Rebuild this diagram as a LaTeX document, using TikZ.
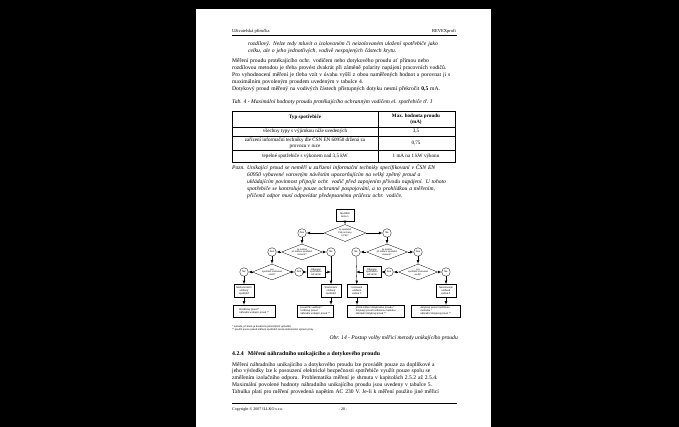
\documentclass[tikz,border=0pt]{standalone}
\usepackage{fontspec}
\setmainfont{Liberation Serif}
\setsansfont{Liberation Sans}
\usepackage{tikz}
\usetikzlibrary{arrows,shapes.geometric,calc}

\begin{document}
\begin{tikzpicture}[x=1pt,y=-1pt,
  txt/.style={anchor=base west,inner sep=0pt,font=\fontsize{5.6}{6.9}\selectfont},
  ital/.style={txt,font=\fontsize{5.6}{6.9}\selectfont\itshape},
  para/.style={txt,text width=226pt,align=left},
  cell/.style={inner sep=0pt,align=center,font=\fontsize{5.1}{5.9}\selectfont},
  box/.style={draw,line width=0.3pt,align=center,inner sep=0.7pt,font=\sffamily\fontsize{2.5}{2.9}\selectfont},
  res/.style={box,align=left,anchor=west},
  ask/.style={draw,line width=0.3pt,diamond,aspect=2.6,inner sep=0pt,align=center,font=\sffamily\fontsize{2.3}{2.7}\selectfont},
  yn/.style={draw,line width=0.3pt,circle,minimum size=8.5pt,inner sep=0pt,font=\sffamily\fontsize{2.5}{2.9}\selectfont},
  arr/.style={line width=0.3pt,-latex}]

\useasboundingbox (0,0) rectangle (679,427);
\fill[black] (0,0) rectangle (679,427);
\fill[white] (196,9) rectangle (491,427);

% header
\node[txt,font=\fontsize{4.5}{5}\selectfont] (hl) at (232,33) {Uživatelská příručka};
\node[txt,anchor=base east,font=\fontsize{4.5}{5}\selectfont] (hr) at (456,33) {REVEXprofi};
\draw[line width=0.4pt] (232,35.5) -- (457,35.5);

% text above table
\node[ital,text width=212pt,align=left] (it) at (248,46) {rozdílový. Nelze tedy mluvit o izolovaném či neizolovaném uložení spotřebiče jako\\ celku, ale o jeho jednotlivých, vodivě nespojených částech krytu.};
\node[para] (p1) at (232,63) {Měření proudu protékajícího ochr. vodičem nebo dotykového proudu ať přímou nebo\\ rozdílovou metodou je třeba provést dvakrát při záměně polarity napájení pracovních vodičů.\\ Pro vyhodnocení měření je třeba vzít v úvahu vyšší z obou naměřených hodnot a porovnat ji s\\ maximálním povoleným proudem uvedeným v tabulce 4.\\ Dotykový proud měřený na vodivých částech přístupných dotyku nesmí překročit \textbf{0,5} mA.};
\node[ital] (tab) at (232,104) {Tab. 4 - Maximální hodnoty proudu protékajícího ochranným vodičem el. spotřebiče tř. I};

% table
\draw[line width=0.4pt] (232,111) rectangle (455,162);
\draw[line width=0.4pt] (378,111) -- (378,162);
\foreach \y in {127,136,150} \draw[line width=0.4pt] (232,\y) -- (455,\y);
\node[cell,font=\fontsize{5.1}{5.9}\selectfont\bfseries] (c11) at (305,117) {Typ spotřebiče};
\node[cell,font=\fontsize{5.1}{5.9}\selectfont\bfseries] (c12) at (416,119.5) {Max. hodnota proudu\\(mA)};
\node[cell] (c21) at (305,131.5) {všechny typy s výjimkou níže uvedených};
\node[cell] (c22) at (416,131.5) {3,5};
\node[cell] (c31) at (305,143) {zařízení informační techniky dle ČSN EN 60950 držená za\\provozu v ruce};
\node[cell] (c32) at (416,143) {0,75};
\node[cell] (c41) at (305,156) {tepelné spotřebiče s výkonem nad 3,5 kW};
\node[cell] (c42) at (416,156) {1 mA na 1 kW výkonu};

% note
\node[ital] (pz) at (232,170) {Pozn.};
\node[ital,text width=212pt,align=left] (pzt) at (247,170) {Unikající proud se neměří u zařízení informační techniky specifikovaní v ČSN EN\\ 60950 vybavené varovným návěstím upozorňujícím na velký zpětný proud a\\ ukládajícím povinnost připojit ochr. vodič před zapojením přívodu napájení. U tohoto\\ spotřebiče se kontroluje pouze ochranné pospojování, a to prohlídkou a měřením,\\ přičemž odpor musí odpovídat předepsanému průřezu ochr. vodiče.};

% flowchart
\node[box,minimum width=18pt,minimum height=12pt] (start) at (345,215) {Spuštění\\testu 1};
\node[ask,minimum width=42pt,minimum height=17pt] (d1) at (345,233) {Je spotřebič\\třídy ochrany\\I (PE)?};
\node[yn] (d1y) at (302,233) {Ano};
\node[yn] (d1n) at (387,233) {Ne};

\node[ask,minimum width=41pt,minimum height=16pt] (d2l) at (302,252) {Je možné\\při měření spotřebič\\izolovat?};
\node[yn] (d2ly) at (272,252) {Ano};
\node[yn] (d2ln) at (331,252) {Ne};
\node[ask,minimum width=41pt,minimum height=16pt] (d2r) at (387,252) {Je možné\\při měření spotřebič\\izolovat?};
\node[yn] (d2rn) at (356,252) {Ne};
\node[yn] (d2ry) at (418,252) {Ano};

\node[ask,minimum width=39pt,minimum height=16pt] (d3l) at (272,272) {Lze\\spotřebič izolovaně\\uložit?};
\node[yn] (d3ln) at (244,272) {Ne};
\node[yn] (d3ly) at (299,272) {Ano};
\node[box,minimum width=18pt,minimum height=11pt] (odl) at (316,272) {Odpojení\\spotřebiče\\od země};
\coordinate (jl) at (331,272);
\node[ask,minimum width=39pt,minimum height=16pt] (d3r) at (418,272) {Lze\\spotřebič izolovaně\\uložit?};
\node[yn] (d3ry) at (389,272) {Ano};
\node[yn] (d3rn) at (446,272) {Ne};
\node[box,minimum width=18pt,minimum height=11pt] (odr) at (372,272) {Odpojení\\spotřebiče\\od země};
\coordinate (jr) at (356,272);

\node[box,minimum width=20pt,minimum height=13pt] (b1) at (244,291) {Nestacionární\\uložený\\spotřebič};
\node[box,minimum width=20pt,minimum height=13pt] (b2) at (331,291) {Stacionární\\uložený\\spotřebič};
\node[box,minimum width=20pt,minimum height=13pt] (b3) at (357,291) {Izolovaně\\uložené\\vodivé č.};
\node[box,minimum width=20pt,minimum height=13pt] (b4) at (446,291) {Neizolovaně\\uložené\\vodivé č.};

\node[res,minimum width=42pt,minimum height=12pt] (r1) at (233,311) {Rozdílový proud *\\náhradní unikající proud **};
\node[res,minimum width=36pt,minimum height=12pt] (r2) at (297,311) {proud PE vodičem *\\rozdílový proud\\náhradní unikající proud **};
\node[res,minimum width=57pt,minimum height=12pt] (r3) at (347,311) {přímé měření dotykového proudu *\\dotykový proud rozdílovou metodou\\náhradní dotykový proud **};
\node[res,minimum width=49pt,minimum height=12pt] (r4) at (411,311) {dotykový proud rozdílovou\\metodou *\\náhradní dotykový proud **};

\draw[arr] (start) -- (d1);
\draw[arr] (d1.west) -- (d1y);
\draw[arr] (d1.east) -- (d1n);
\draw[arr] (d1y) -- (d2l);
\draw[arr] (d1n) -- (d2r);
\draw[arr] (d2l.west) -- (d2ly);
\draw[arr] (d2l.east) -- (d2ln);
\draw[arr] (d2ly) -- (d3l);
\draw[arr] (d2ln) -- (b2);
\draw[arr] (d3l.west) -- (d3ln);
\draw[arr] (d3l.east) -- (d3ly);
\draw[arr] (d3ly) -- (odl);
\draw[arr] (odl) -- (jl);
\draw[arr] (d3ln) -- (b1);
\draw[arr] (d2r.west) -- (d2rn);
\draw[arr] (d2r.east) -- (d2ry);
\draw[arr] (d2rn) -- (b3);
\draw[arr] (d2ry) -- (d3r);
\draw[arr] (d3r.west) -- (d3ry);
\draw[arr] (d3r.east) -- (d3rn);
\draw[arr] (d3ry) -- (odr);
\draw[arr] (odr) -- (jr);
\draw[arr] (d3rn) -- (b4);
\draw[arr] (b1) -- (b1 |- r1.north);
\draw[arr] (b2) -- (b2 |- r2.north);
\draw[arr] (b3) -- (b3 |- r3.north);
\draw[arr] (b4) -- (b4 |- r4.north);

\node[txt,font=\sffamily\fontsize{2.5}{2.9}\selectfont] (fn1) at (232,327) {* metoda, při které je dosaženo přesnějších výsledků};
\node[txt,font=\sffamily\fontsize{2.5}{2.9}\selectfont] (fn2) at (232,330.8) {** použití pouze pokud měřený spotřebič nemá elektronické spínací prvky};
\node[ital,anchor=base east] (obr) at (458,339) {Obr. 14 - Postup volby měřicí metody unikajícího proudu};

% section 4.2.4
\node[txt,font=\fontsize{5.8}{7}\selectfont\bfseries] (sec) at (232,355) {4.2.4\hspace{4pt}Měření náhradního unikajícího a dotykového proudu};
\node[para] (p2) at (232,366) {Měření náhradního unikajícího a dotykového proudu lze provádět pouze za doplňkové a\\ jeho výsledky lze k posouzení elektrické bezpečnosti spotřebiče využít pouze spolu se\\ změřením izolačního odporu. Problematika měření je shrnuta v kapitolách 2.5.2 až 2.5.4.\\ Maximální povolené hodnoty náhradního unikajícího proudu jsou uvedeny v tabulce 5.\\ Tabulka platí pro měření provedená napětím AC 230 V. Je-li k měření použito jiné měřicí};

% footer
\draw[line width=0.4pt] (232,403) -- (457,403);
\node[txt,font=\fontsize{4}{5}\selectfont] (cp) at (232,410) {Copyright © 2007 ILLKO s.r.o.};
\node[txt,anchor=base,font=\fontsize{4}{5}\selectfont] (pg) at (343,410) {- 28 -};
\end{tikzpicture}
\end{document}
